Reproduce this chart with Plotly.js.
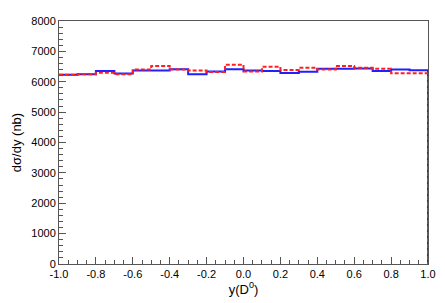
<!DOCTYPE html>
<html>
<head>
<meta charset="utf-8">
<script src="https://cdn.plot.ly/plotly-3.0.1.min.js"></script>
<style>html,body{margin:0;padding:0;background:#fff;}#chart{width:445px;height:303px;}</style>
</head>
<body>
<div id="chart"></div>
<script>
// Bin lower edges (width 0.1) and upper edge
const binEdges = [-1.0,-0.9,-0.8,-0.7,-0.6,-0.5,-0.4,-0.3,-0.2,-0.1,0.0,0.1,0.2,0.3,0.4,0.5,0.6,0.7,0.8,0.9,1.0];
// Blue solid histogram values (nb)
const blueVals = [6230,6250,6350,6270,6370,6370,6410,6250,6340,6410,6370,6350,6290,6330,6430,6430,6440,6350,6400,6380];
// Red dashed histogram values (nb)
const redVals  = [6230,6250,6300,6250,6400,6520,6400,6370,6320,6560,6340,6490,6390,6460,6400,6520,6460,6430,6280,6280];
const xTickVals = [-1.0,-0.8,-0.6,-0.4,-0.2,0.0,0.2,0.4,0.6,0.8,1.0];
const xTickText = ["-1.0","-0.8","-0.6","-0.4","-0.2","0.0","0.2","0.4","0.6","0.8","1.0"];
const yTickVals = [0,1000,2000,3000,4000,5000,6000,7000,8000];

function stepTrace(vals, color, dash) {
  const xs = binEdges.slice(0, vals.length).concat([binEdges[vals.length], binEdges[vals.length]]);
  const ys = vals.concat([vals[vals.length-1], 0]);
  return {x: xs, y: ys, type: 'scatter', mode: 'lines',
          line: {shape: 'hv', color: color, width: 2, dash: dash},
          hoverinfo: 'skip', showlegend: false};
}

const data = [stepTrace(blueVals, '#1f1fff', 'solid'), stepTrace(redVals, '#ff1f1f', '4px,2px')];

const axisCommon = {
  showgrid: false, zeroline: false, showline: true, mirror: true,
  linecolor: '#555', linewidth: 1, ticks: 'inside', tickcolor: '#555',
  tickfont: {family: 'Liberation Sans, Arial, sans-serif', size: 11, color: '#000'}
};

const layout = {
  width: 445, height: 303,
  margin: {l: 59, r: 17, t: 21, b: 39},
  paper_bgcolor: '#fff', plot_bgcolor: '#fff',
  font: {family: 'Liberation Sans, Arial, sans-serif', color: '#000'},
  xaxis: Object.assign({}, axisCommon, {
    range: [-1, 1], tickmode: 'array', tickvals: xTickVals, ticktext: xTickText,
    ticklen: 7, minor: {dtick: 0.05, ticks: 'inside', ticklen: 4, tickcolor: '#555'},
    title: {text: 'y(D<sup>0</sup>)', font: {size: 13}, standoff: 3}
  }),
  yaxis: Object.assign({}, axisCommon, {
    range: [0, 8000], tickmode: 'array', tickvals: yTickVals,
    ticklen: 7, minor: {dtick: 200, ticks: 'inside', ticklen: 4, tickcolor: '#555'},
    title: {text: 'd\u03c3/dy (nb)', font: {size: 13}, standoff: 6}
  })
};

Plotly.newPlot('chart', data, layout, {displayModeBar: false, staticPlot: true});
</script>
</body>
</html>
